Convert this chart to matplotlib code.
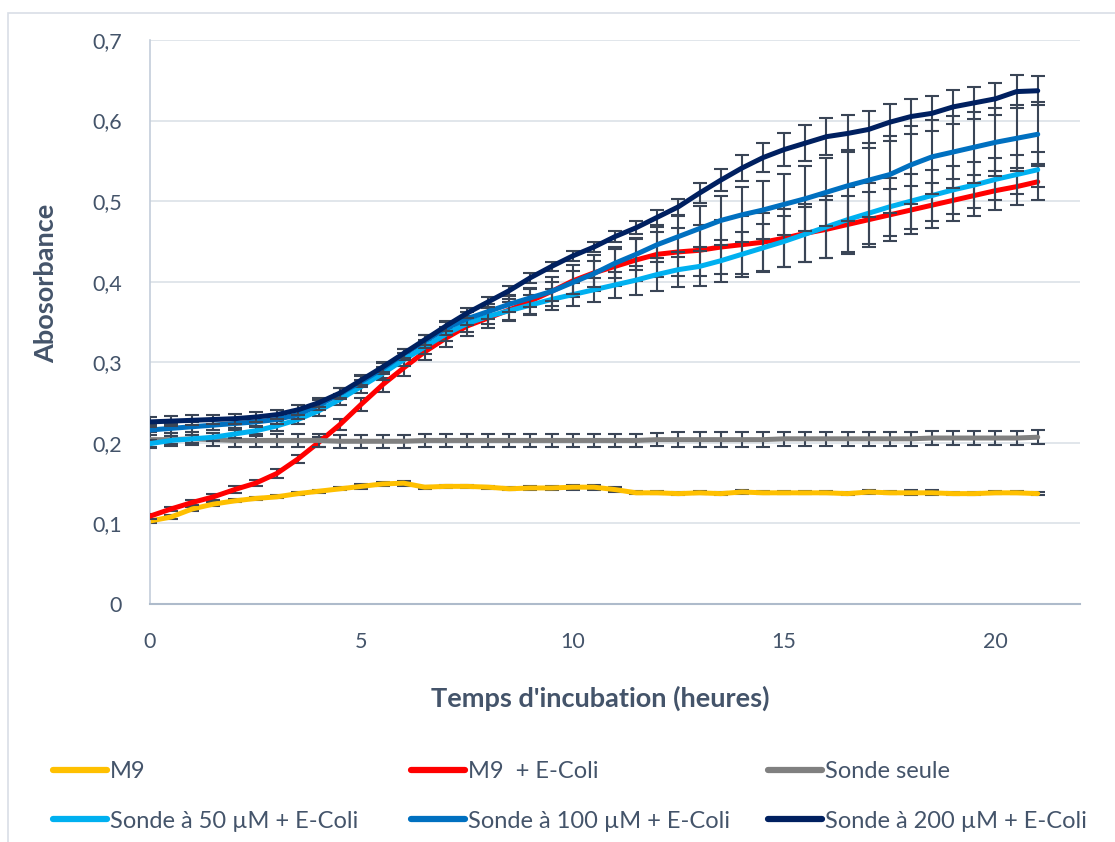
import matplotlib.pyplot as plt
from matplotlib.patches import Rectangle

plt.rcParams['font.family'] = ['Lato', 'DejaVu Sans']

# time (hours)
temps = [0, 0.5, 1, 1.5, 2, 2.5, 3, 3.5, 4, 4.5, 5, 5.5, 6, 6.5, 7, 7.5, 8, 8.5, 9, 9.5,
         10, 10.5, 11, 11.5, 12, 12.5, 13, 13.5, 14, 14.5, 15, 15.5, 16, 16.5, 17, 17.5,
         18, 18.5, 19, 19.5, 20, 20.5, 21]

m9 = [0.103, 0.108, 0.118, 0.124, 0.128, 0.131, 0.133, 0.137, 0.140, 0.143, 0.146, 0.149,
      0.150, 0.145, 0.146, 0.146, 0.145, 0.143, 0.144, 0.144, 0.145, 0.145, 0.142, 0.138,
      0.138, 0.137, 0.138, 0.137, 0.139, 0.138, 0.138, 0.138, 0.138, 0.137, 0.139, 0.138,
      0.138, 0.138, 0.137, 0.137, 0.138, 0.138, 0.137]
m9_err = [0.003, 0.003, 0.002, 0.002, 0.002, 0.002, 0.002, 0.002, 0.002, 0.002, 0.003, 0.003,
          0.003, 0.002, 0.002, 0.002, 0.002, 0.002, 0.002, 0.002, 0.003, 0.003, 0.003, 0.002,
          0.002, 0.002, 0.002, 0.002, 0.002, 0.002, 0.002, 0.002, 0.002, 0.002, 0.002, 0.002,
          0.003, 0.003, 0.002, 0.002, 0.002, 0.002, 0.002]

m9_ecoli = [0.109, 0.118, 0.126, 0.133, 0.142, 0.150, 0.162, 0.180, 0.201, 0.223, 0.248, 0.272,
            0.293, 0.313, 0.330, 0.345, 0.355, 0.365, 0.376, 0.388, 0.401, 0.411, 0.419, 0.427,
            0.434, 0.437, 0.439, 0.443, 0.446, 0.449, 0.454, 0.460, 0.465, 0.471, 0.477, 0.483,
            0.489, 0.495, 0.501, 0.507, 0.513, 0.518, 0.524]
m9_ecoli_err = [0.003, 0.003, 0.003, 0.004, 0.004, 0.004, 0.005, 0.005, 0.006, 0.007, 0.008, 0.009,
                0.010, 0.010, 0.011, 0.012, 0.013, 0.014, 0.016, 0.018, 0.020, 0.022, 0.024, 0.026,
                0.028, 0.030, 0.032, 0.034, 0.036, 0.036, 0.036, 0.036, 0.036, 0.036, 0.034, 0.032,
                0.030, 0.028, 0.026, 0.025, 0.024, 0.023, 0.022]

sonde = [0.204, 0.204, 0.205, 0.204, 0.203, 0.203, 0.203, 0.203, 0.203, 0.202, 0.202, 0.202,
         0.202, 0.203, 0.203, 0.203, 0.203, 0.203, 0.203, 0.203, 0.203, 0.203, 0.203, 0.203,
         0.204, 0.204, 0.204, 0.204, 0.204, 0.204, 0.205, 0.205, 0.205, 0.205, 0.205, 0.205,
         0.205, 0.206, 0.206, 0.206, 0.206, 0.206, 0.207]
sonde_err = [0.009, 0.008, 0.008, 0.008, 0.008, 0.008, 0.008, 0.008, 0.008, 0.008, 0.008, 0.008,
             0.008, 0.008, 0.008, 0.008, 0.008, 0.008, 0.008, 0.008, 0.008, 0.008, 0.008, 0.008,
             0.008, 0.009, 0.009, 0.009, 0.009, 0.009, 0.009, 0.009, 0.009, 0.009, 0.009, 0.009,
             0.009, 0.009, 0.009, 0.009, 0.009, 0.009, 0.009]

s50 = [0.199, 0.203, 0.205, 0.207, 0.211, 0.215, 0.221, 0.229, 0.240, 0.254, 0.270, 0.286,
       0.303, 0.319, 0.335, 0.348, 0.357, 0.364, 0.371, 0.378, 0.384, 0.390, 0.396, 0.402,
       0.409, 0.415, 0.419, 0.426, 0.434, 0.442, 0.450, 0.459, 0.468, 0.477, 0.485, 0.493,
       0.500, 0.507, 0.514, 0.520, 0.527, 0.533, 0.539]
s50_err = [0.005, 0.005, 0.005, 0.005, 0.005, 0.006, 0.006, 0.006, 0.007, 0.007, 0.008, 0.008,
           0.008, 0.009, 0.009, 0.010, 0.010, 0.011, 0.012, 0.013, 0.014, 0.015, 0.016, 0.018,
           0.020, 0.022, 0.024, 0.026, 0.028, 0.030, 0.032, 0.034, 0.038, 0.040, 0.038, 0.036,
           0.034, 0.032, 0.030, 0.028, 0.026, 0.024, 0.022]

s100 = [0.216, 0.218, 0.220, 0.222, 0.224, 0.226, 0.229, 0.235, 0.247, 0.261, 0.276, 0.292,
        0.310, 0.326, 0.342, 0.354, 0.363, 0.372, 0.380, 0.388, 0.399, 0.410, 0.423, 0.434,
        0.446, 0.456, 0.466, 0.476, 0.483, 0.489, 0.496, 0.503, 0.511, 0.519, 0.526, 0.533,
        0.545, 0.555, 0.561, 0.567, 0.573, 0.578, 0.583]
s100_err = [0.006, 0.006, 0.006, 0.006, 0.006, 0.006, 0.006, 0.006, 0.006, 0.007, 0.007, 0.007,
            0.007, 0.008, 0.008, 0.008, 0.009, 0.010, 0.011, 0.012, 0.014, 0.016, 0.018, 0.020,
            0.022, 0.025, 0.028, 0.031, 0.034, 0.036, 0.038, 0.040, 0.042, 0.044, 0.046, 0.048,
            0.048, 0.046, 0.045, 0.044, 0.042, 0.041, 0.040]

s200 = [0.226, 0.227, 0.228, 0.229, 0.230, 0.232, 0.235, 0.241, 0.250, 0.262, 0.278, 0.294,
        0.311, 0.328, 0.345, 0.361, 0.375, 0.389, 0.405, 0.419, 0.432, 0.443, 0.456, 0.467,
        0.480, 0.493, 0.510, 0.526, 0.541, 0.554, 0.564, 0.572, 0.580, 0.584, 0.589, 0.598,
        0.605, 0.609, 0.617, 0.622, 0.627, 0.636, 0.637]
s200_err = [0.006, 0.006, 0.006, 0.006, 0.006, 0.006, 0.006, 0.006, 0.006, 0.006, 0.006, 0.006,
            0.006, 0.006, 0.006, 0.006, 0.006, 0.006, 0.006, 0.006, 0.006, 0.006, 0.007, 0.008,
            0.009, 0.010, 0.012, 0.014, 0.016, 0.018, 0.020, 0.022, 0.023, 0.023, 0.023, 0.023,
            0.022, 0.022, 0.021, 0.020, 0.020, 0.020, 0.018]

labels = ['M9', 'M9  + E-Coli', 'Sonde seule',
          'Sonde à 50 µM + E-Coli', 'Sonde à 100 µM + E-Coli', 'Sonde à 200 µM + E-Coli']
colors = ['#FFC000', '#FF0000', '#808080', '#00B0F0', '#0070C0', '#002060']
series = [(m9, m9_err), (m9_ecoli, m9_ecoli_err), (sonde, sonde_err),
          (s50, s50_err), (s100, s100_err), (s200, s200_err)]

txt = '#44546A'

fig = plt.figure(figsize=(11.15, 8.42), dpi=100)
fig.patches.append(Rectangle((8 / 1115, -0.1), 1.2, (842 - 13) / 842 + 0.1, transform=fig.transFigure,
                             fill=False, edgecolor='#D9DEE6', linewidth=1.2))
ax = fig.add_axes([150 / 1115, 1 - 604 / 842, 930 / 1115, 564 / 842])

handles = []
z = 2
for (y, e), c, lab in zip(series, colors, labels):
    ax.errorbar(temps, y, yerr=e, fmt='none', ecolor='#3A4556', elinewidth=1.5,
                capsize=5, capthick=1.5, zorder=z)
    h, = ax.plot(temps, y, color=c, linewidth=3.6, label=lab, zorder=z + 0.5,
                 solid_capstyle='round')
    handles.append(h)
    z += 1

ax.set_xlim(0, 22)
ax.set_ylim(0, 0.7)
ax.set_xticks([0, 5, 10, 15, 20])
ax.set_yticks([0, 0.1, 0.2, 0.3, 0.4, 0.5, 0.6, 0.7])
ax.set_yticklabels(['0', '0,1', '0,2', '0,3', '0,4', '0,5', '0,6', '0,7'])
ax.tick_params(axis='both', length=0, labelsize=15.5, labelcolor=txt)
ax.tick_params(axis='y', pad=20)
ax.tick_params(axis='x', pad=20)
ax.grid(axis='y', color='#DCE1E8', linewidth=1.2)
ax.set_axisbelow(True)
for s in ['top', 'right']:
    ax.spines[s].set_visible(False)
ax.spines['left'].set_color('#C3CDDA')
ax.spines['bottom'].set_color('#AEBBCB')
ax.spines['left'].set_linewidth(1.2)
ax.spines['bottom'].set_linewidth(1.5)

ax.set_xlabel("Temps d'incubation (heures)", fontsize=19.5, fontweight='bold', color=txt)
ax.set_ylabel('Abosorbance', fontsize=19.5, fontweight='bold', color=txt)
ax.xaxis.set_label_coords((600 - 150) / 930, -(686 - 604) / 564)
ax.yaxis.set_label_coords(-(150 - 58) / 930, (604 - 283) / 564)

# legend: one entry per slot, placed like the original grid
col_x = [53, 411, 768]
row_y = [772, 821]
for i, h in enumerate(handles):
    lx = col_x[i % 3]
    ly = row_y[i // 3]
    lg = fig.legend([h], [labels[i]], loc='center left',
                    bbox_to_anchor=(lx / 1115, 1 - ly / 842),
                    frameon=False, fontsize=17, handlelength=2.3, handletextpad=0.13,
                    borderpad=0, borderaxespad=0, labelcolor=txt)
    for ln in lg.get_lines():
        ln.set_linewidth(4.5)

fig.savefig('out.png', dpi=100)
